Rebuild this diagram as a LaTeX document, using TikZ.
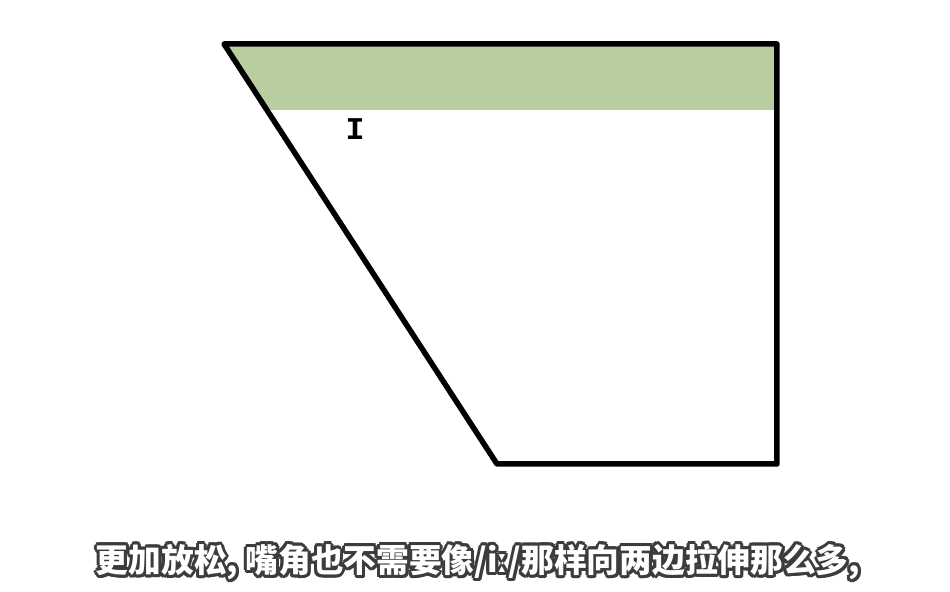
\documentclass[tikz,border=0pt]{standalone}
\usepackage{fontspec}
\usepackage{xcolor}
\usepackage{tikz}
\usetikzlibrary{calc}
\newfontfamily\cjk{Noto Sans CJK SC}
\newfontfamily\ipafont{DejaVu Sans}
\newfontfamily\monofont{Liberation Mono}
\definecolor{bandgreen}{HTML}{B8CDA0}
\definecolor{subgray}{HTML}{3C3C3C}

\begin{document}
\begin{tikzpicture}[
    x=0.01cm, y=-0.01cm,
    outline/.style={
        line width=0.055cm,
        line join=round,
        draw=black
    },
    vowel/.style={
        font=\monofont\bfseries\fontsize{9}{9}\selectfont,
        inner sep=0pt
    },
    subtitle/.style={
        font=\cjk\bfseries\fontsize{9.3}{9.3}\selectfont,
        inner sep=0pt
    }
]
\useasboundingbox (0,0) rectangle (950,592);

% Corner points of the trapezoid
\coordinate (tl) at (224, 44);
\coordinate (tr) at (777, 44);
\coordinate (br) at (777, 464);
\coordinate (bl) at (497, 464);
\coordinate (bandr) at (777, 110);
\coordinate (bandl) at ($(tl)!0.157!(bl)$);

% Green band under the top edge
\fill[bandgreen] (tl) -- (tr) -- (bandr) -- (bandl) -- cycle;

% Trapezoid
\draw[outline] (tl) -- (tr) -- (br) -- (bl) -- cycle;

% Vowel label
\node[vowel] (vowelI) at (355, 129) {I};

% Subtitle with outline
\foreach \a in {0,30,...,330} {
    \node[subtitle, text=subgray] (shadow\a) at ($(478, 562)+(\a:3)$)
        {更加放松, 嘴角也不需要像/i{\ipafont ː}/那样向两边拉伸那么多,};
}
\node[subtitle, text=white] (caption) at (478, 562)
    {更加放松, 嘴角也不需要像/i{\ipafont ː}/那样向两边拉伸那么多,};

\end{tikzpicture}
\end{document}
